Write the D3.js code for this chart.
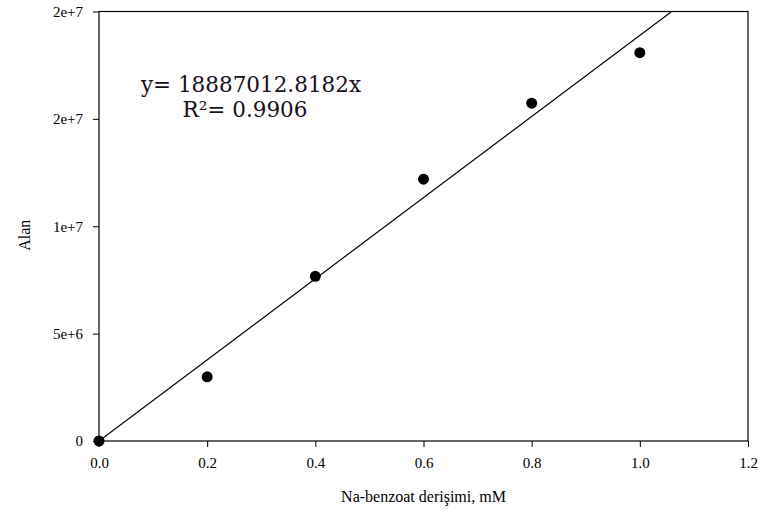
<!DOCTYPE html>
<html>
<head>
<meta charset="utf-8">
<script src="https://cdn.jsdelivr.net/npm/d3@7"></script>
<style>
  body { margin: 0; background: #fff; }
  svg { display: block; font-family: "Liberation Serif", "DejaVu Serif", serif; }
  .axis path, .axis line { stroke: #000; }
  .axis text { font-size: 15px; fill: #000; font-family: "Liberation Serif", serif; }
</style>
</head>
<body>
<svg id="chart" width="763" height="520"></svg>
<script>
// measured points
const conc = [0, 0.2, 0.4, 0.6, 0.8, 1.0];
const area = [0, 2.99e6, 7.67e6, 12.19e6, 15.73e6, 18.08e6];

// fit from the chart
const slope = 18887012.8182;
const fitX = [0, 1.2];

const xTicks = [0, 0.2, 0.4, 0.6, 0.8, 1.0, 1.2];
const xTickLabels = ["0.0", "0.2", "0.4", "0.6", "0.8", "1.0", "1.2"];
const yTicks = [0, 5e6, 1e7, 1.5e7, 2e7];
const yTickLabels = ["0", "5e+6", "1e+7", "2e+7", "2e+7"];

const svg = d3.select("#chart");
const margin = {top: 11.5, right: 15, bottom: 79, left: 99};
const width = 763 - margin.left - margin.right,
    height = 520 - margin.top - margin.bottom;

const x = d3.scaleLinear().domain([0, 1.2]).range([0, width]);
const y = d3.scaleLinear().domain([0, 2e7]).range([height, 0]);

const g = svg.append("g")
    .attr("transform", "translate(" + margin.left + "," + margin.top + ")");

g.append("clipPath").attr("id", "clip")
  .append("rect").attr("width", width).attr("height", height);

// frame
g.append("rect")
    .attr("width", width).attr("height", height)
    .attr("fill", "none").attr("stroke", "#000").attr("stroke-width", 1.2);

const xAxis = d3.axisBottom(x).tickValues(xTicks).tickSize(6).tickPadding(10)
    .tickFormat((d, i) => xTickLabels[i]);
const yAxis = d3.axisLeft(y).tickValues(yTicks).tickSize(6).tickPadding(10)
    .tickFormat((d, i) => yTickLabels[i]);

g.append("g").attr("class", "axis")
    .attr("transform", "translate(0," + height + ")")
    .call(xAxis)
    .call(s => s.select(".domain").remove());
g.append("g").attr("class", "axis")
    .call(yAxis)
    .call(s => s.select(".domain").remove());

// regression line
const line = d3.line()
    .x(d => x(d))
    .y(d => y(d * slope));
g.append("path")
    .datum(fitX)
    .attr("clip-path", "url(#clip)")
    .attr("fill", "none")
    .attr("stroke", "#000")
    .attr("stroke-width", 1.2)
    .attr("d", line);

// points
g.selectAll(".dot")
    .data(conc)
    .enter()
    .append("circle")
    .attr("class", "dot")
    .attr("cx", d => x(d))
    .attr("cy", (d, i) => y(area[i]))
    .attr("r", 5.5)
    .attr("fill", "#000");

// equation
svg.append("text")
    .attr("x", 251).attr("y", 92)
    .attr("text-anchor", "middle")
    .style("font-family", "'DejaVu Serif', serif")
    .style("font-size", "21.5px")
    .attr("fill", "#1a1020")
    .text("y= 18887012.8182x");
svg.append("text")
    .attr("x", 245).attr("y", 117)
    .attr("text-anchor", "middle")
    .style("font-family", "'DejaVu Serif', serif")
    .style("font-size", "21.5px")
    .attr("fill", "#1a1020")
    .text("R²= 0.9906");

// axis titles
svg.append("text")
    .attr("x", margin.left + width / 2).attr("y", 502)
    .attr("text-anchor", "middle")
    .style("font-size", "16px")
    .text("Na-benzoat derişimi, mM");
svg.append("text")
    .attr("transform", "translate(30," + (margin.top + height / 2 + 9) + ") rotate(-90)")
    .attr("text-anchor", "middle")
    .style("font-size", "16px")
    .text("Alan");
</script>
</body>
</html>
